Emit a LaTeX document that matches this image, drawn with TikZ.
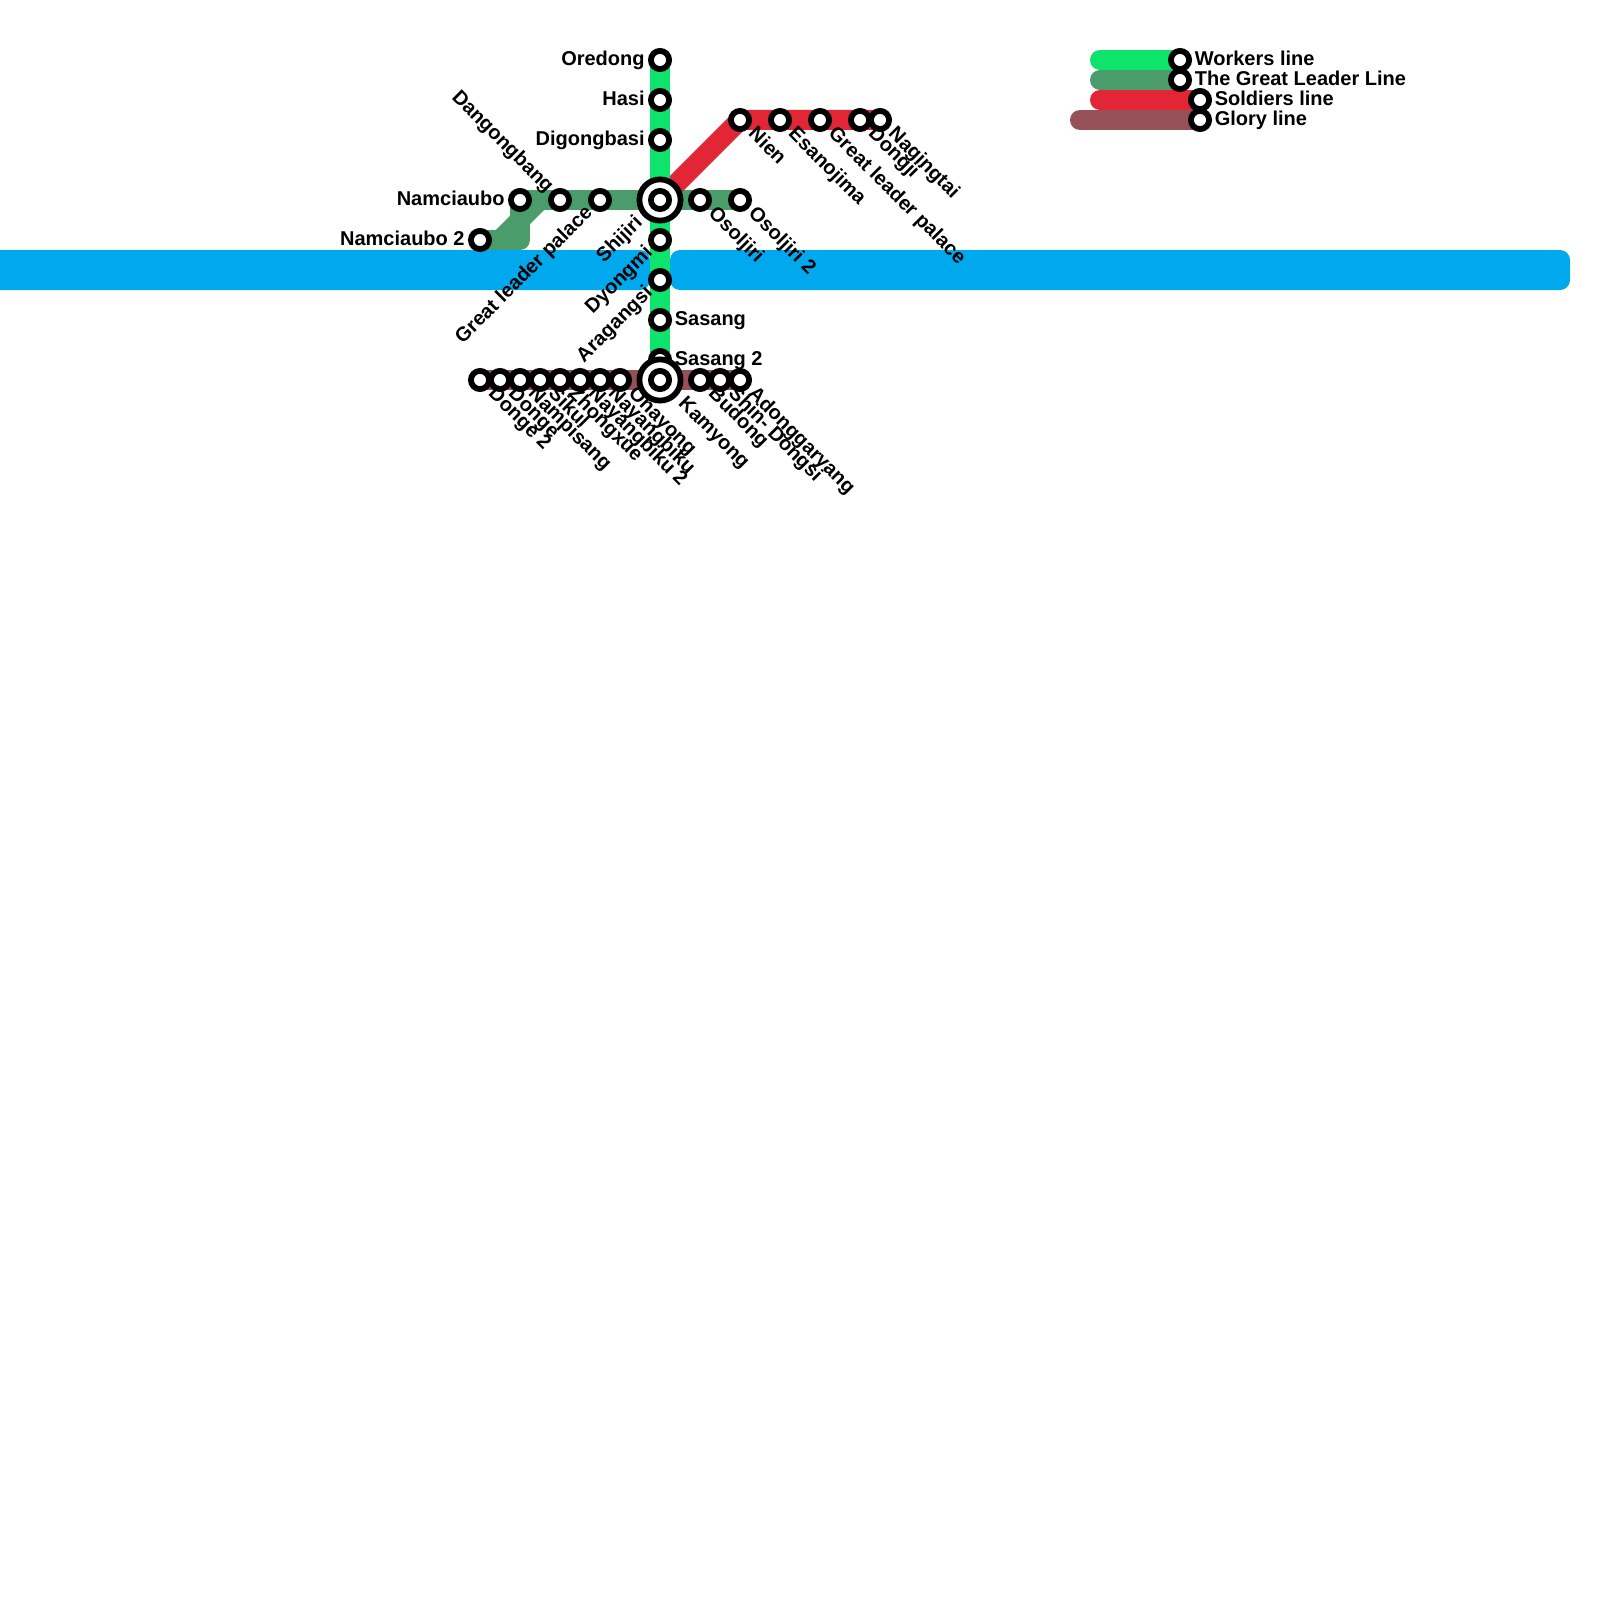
\documentclass[tikz,border=0pt]{standalone}
\usepackage{fontspec}
\setmainfont{Liberation Sans}[BoldFont={Liberation Sans Bold}]
\definecolor{cWorkers}{HTML}{0EE36B}
\definecolor{cLeader}{HTML}{4A9D6A}
\definecolor{cSoldiers}{HTML}{E32636}
\definecolor{cGlory}{HTML}{965058}
\definecolor{cRiver}{HTML}{00A8EE}
\pgfdeclarelayer{bg}
\pgfsetlayers{bg,main}
\tikzset{
  stn/.style={circle,draw=black,fill=white,line width=2.9pt,minimum size=9.1pt,inner sep=0pt},
  xch/.style={circle,draw=black,fill=white,line width=2.9pt,minimum size=20.6pt,inner sep=0pt},
  metro/.style={line width=10pt,line cap=round,line join=round},
  river/.style={fill=cRiver,rounded corners=5pt},
  txt/.style={font=\fontsize{10pt}{12pt}\selectfont\bfseries,inner sep=0pt,text=black,text height=7.2pt,text depth=2.1pt},
  lleft/.style={txt,anchor=east},
  lright/.style={txt,anchor=west},
  ldr/.style={txt,anchor=west,rotate=-45},
  lul/.style={txt,anchor=east,rotate=-45},
  ldl/.style={txt,anchor=east,rotate=45},
}
\begin{document}
\begin{tikzpicture}[x=0.5pt,y=-0.5pt]
\useasboundingbox (0,0) rectangle (1600,1600);
% Stations: Workers line
\node[stn] (oredong) at (660,60) {};
\node[stn] (hasi) at (660,100) {};
\node[stn] (digong) at (660,140) {};
\node[stn] (dyongmi) at (660,240) {};
\node[stn] (aragangsi) at (660,280) {};
\node[stn] (sasang) at (660,320) {};
\node[stn] (sasangb) at (660,360) {};
% Great Leader line
\node[stn] (namb) at (480,240) {};
\node[stn] (nam) at (520,200) {};
\node[stn] (dangong) at (560,200) {};
\node[stn] (palace) at (600,200) {};
\node[xch] (shijiriO) at (660,200) {};
\node[stn] (shijiri) at (660,200) {};
\node[stn] (osol) at (700,200) {};
\node[stn] (osolb) at (740,200) {};
% Soldiers line
\node[stn] (nien) at (740,120) {};
\node[stn] (esano) at (780,120) {};
\node[stn] (palaceb) at (820,120) {};
\node[stn] (dongji) at (860,120) {};
\node[stn] (nagin) at (880,120) {};
% Glory line
\node[stn] (dongeb) at (480,380) {};
\node[stn] (donge) at (500,380) {};
\node[stn] (nampi) at (520,380) {};
\node[stn] (sikul) at (540,380) {};
\node[stn] (zhong) at (560,380) {};
\node[stn] (nayb) at (580,380) {};
\node[stn] (nay) at (600,380) {};
\node[stn] (onay) at (620,380) {};
\node[xch] (kamO) at (660,380) {};
\node[stn] (kam) at (660,380) {};
\node[stn] (budong) at (700,380) {};
\node[stn] (shin) at (720,380) {};
\node[stn] (adong) at (740,380) {};
% Legend stations
\node[stn] (kw) at (1180,60) {};
\node[stn] (kl) at (1180,80) {};
\node[stn] (ks) at (1200,100) {};
\node[stn] (kg) at (1200,120) {};
\coordinate (kwa) at (1100,60);
\coordinate (kla) at (1100,80);
\coordinate (ksa) at (1100,100);
\coordinate (kga) at (1080,120);
\coordinate (ra) at (-20,250);
\coordinate (rb) at (650,290);
\coordinate (rc) at (670,250);
\coordinate (rd) at (1570,290);
\coordinate (gk1) at (520,240);
\coordinate (gk2) at (500,240);
\coordinate (gk3) at (540,200);
\begin{pgfonlayer}{bg}
\fill[river] (ra) rectangle (rb);
\fill[river] (rc) rectangle (rd);
\draw[metro,cLeader] (namb.center) -- (gk1) -- (nam.center) -- (osolb.center);
\draw[metro,cLeader] (gk2) -- (gk3);
\draw[metro,cSoldiers] (shijiri.center) -- (nien.center) -- (nagin.center);
\draw[metro,cWorkers] (oredong.center) -- (sasangb.center);
\draw[metro,cGlory] (dongeb.center) -- (adong.center);
\draw[metro,cWorkers] (kwa) -- (kw.center);
\draw[metro,cLeader] (kla) -- (kl.center);
\draw[metro,cSoldiers] (ksa) -- (ks.center);
\draw[metro,cGlory] (kga) -- (kg.center);
\end{pgfonlayer}
% Labels
\node[lleft] (t1) at ([xshift=-7.5pt]oredong.center) {Oredong};
\node[lleft] (t2) at ([xshift=-7.5pt]hasi.center) {Hasi};
\node[lleft] (t3) at ([xshift=-7.5pt]digong.center) {Digongbasi};
\node[lleft] (t4) at ([xshift=-7.5pt]nam.center) {Namciaubo};
\node[lleft] (t5) at ([xshift=-7.5pt]namb.center) {Namciaubo 2};
\node[lright] (t6) at ([xshift=7.2pt]sasang.center) {Sasang};
\node[lright] (t7) at ([xshift=7.2pt]sasangb.center) {Sasang 2};
\node[lul] (t8) at ([shift={(-10,-10)}]dangong.center) {Dangongbang};
\node[ldl] (t9) at ([shift={(-10,10)}]palace.center) {Great leader palace};
\node[ldl] (t10) at ([shift={(-20,20)}]shijiri.center) {Shijiri};
\node[ldl] (t11) at ([shift={(-10,10)}]dyongmi.center) {Dyongmi};
\node[ldl] (t12) at ([shift={(-10,10)}]aragangsi.center) {Aragangsi};
\node[ldr] (t13) at ([shift={(11,11)}]osol.center) {Osoljiri};
\node[ldr] (t14) at ([shift={(11,11)}]osolb.center) {Osoljiri 2};
\node[ldr] (t15) at ([shift={(11,11)}]nien.center) {Nien};
\node[ldr] (t16) at ([shift={(11,11)}]esano.center) {Esanojima};
\node[ldr] (t17) at ([shift={(11,11)}]palaceb.center) {Great leader palace};
\node[ldr] (t18) at ([shift={(11,11)}]dongji.center) {Dongji};
\node[ldr] (t19) at ([shift={(11,11)}]nagin.center) {Nagingtai};
\node[ldr] (t20) at ([shift={(11,11)}]dongeb.center) {Donge 2};
\node[ldr] (t21) at ([shift={(11,11)}]donge.center) {Donge};
\node[ldr] (t22) at ([shift={(11,11)}]nampi.center) {Nampisang};
\node[ldr] (t23) at ([shift={(11,11)}]sikul.center) {Sikul};
\node[ldr] (t24) at ([shift={(11,11)}]zhong.center) {Zhongxue};
\node[ldr] (t25) at ([shift={(11,11)}]nayb.center) {Nayangbiku 2};
\node[ldr] (t26) at ([shift={(11,11)}]nay.center) {Nayangbiku};
\node[ldr] (t27) at ([shift={(11,11)}]onay.center) {Onayong};
\node[ldr] (t28) at ([shift={(21,21)}]kam.center) {Kamyong};
\node[ldr] (t29) at ([shift={(11,11)}]budong.center) {Budong};
\node[ldr] (t30) at ([shift={(11,11)}]shin.center) {Shin- Dongsi};
\node[ldr] (t31) at ([shift={(11,11)}]adong.center) {Adonggaryang};
\node[lright] (t32) at ([xshift=7.2pt]kw.center) {Workers line};
\node[lright] (t33) at ([xshift=7.2pt]kl.center) {The Great Leader Line};
\node[lright] (t34) at ([xshift=7.2pt]ks.center) {Soldiers line};
\node[lright] (t35) at ([xshift=7.2pt]kg.center) {Glory line};
\end{tikzpicture}
\end{document}
